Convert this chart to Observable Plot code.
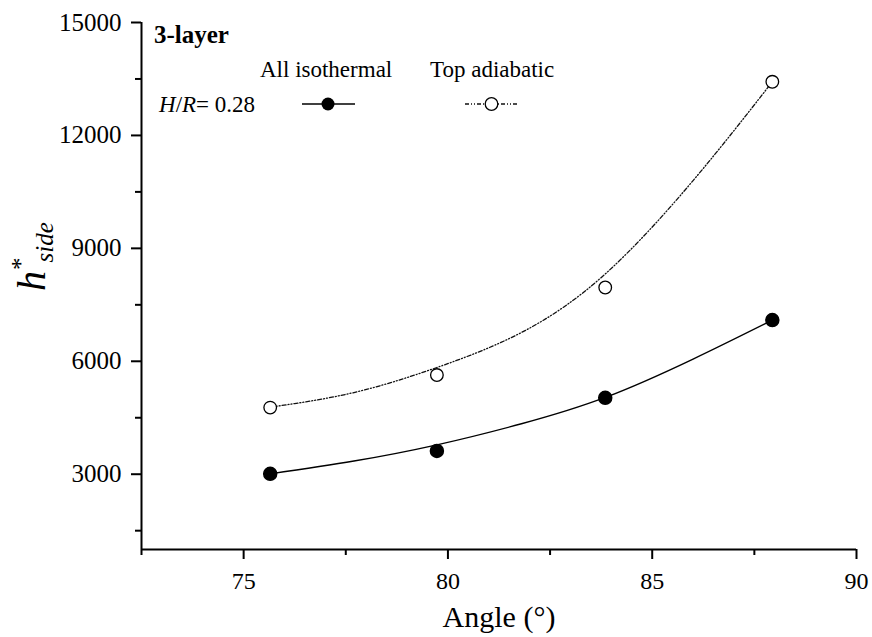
<!DOCTYPE html>
<html>
<head>
<meta charset="utf-8">
<script src="https://cdn.jsdelivr.net/npm/d3@7"></script>
<script src="https://cdn.jsdelivr.net/npm/@observablehq/plot@0.6"></script>
<style>
  html, body { margin: 0; padding: 0; background: #fff; }
  #chart { width: 872px; height: 637px; }
</style>
</head>
<body>
<div id="chart"></div>
<script>
// ---- data ----
const angles = [75.65, 79.73, 83.85, 87.94];
const isothermal = [3010, 3620, 5030, 7095];
const adiabatic = [4770, 5635, 7960, 13425];

// fitted curves
const fitAngles = [75.65, 77.7, 79.73, 81.8, 83.85, 86.0, 87.94];
const isothermalFit = [3010, 3350, 3780, 4340, 5040, 6060, 7095];
const adiabaticFit = [4780, 5170, 5835, 6765, 8320, 10800, 13425];

const xTicks = [75, 80, 85, 90];
const xMinor = [72.5, 77.5, 82.5, 87.5];
const yTicks = [3000, 6000, 9000, 12000, 15000];
const yMinor = [1500, 4500, 7500, 10500, 13500];

const iso = angles.map((a, i) => ({angle: a, h: isothermal[i]}));
const adi = angles.map((a, i) => ({angle: a, h: adiabatic[i]}));
const isoFit = fitAngles.map((a, i) => ({angle: a, h: isothermalFit[i]}));
const adiFit = fitAngles.map((a, i) => ({angle: a, h: adiabaticFit[i]}));

const serif = "'Liberation Serif', 'Times New Roman', serif";
const dashStyle = "4,2,1,2,1,2";

const chart = Plot.plot({
  width: 872,
  height: 637,
  marginLeft: 141,
  marginRight: 16,
  marginTop: 22,
  marginBottom: 88,
  style: {fontFamily: serif, color: "#000", background: "#fff"},
  x: {domain: [72.5, 90]},
  y: {domain: [1000, 15000]},
  marks: [
    Plot.axisX({ticks: xTicks, tickSize: 10, tickPadding: 12, fontSize: 24, strokeWidth: 2, label: null, tickFormat: d => String(d)}),
    Plot.axisX({ticks: xMinor, tickSize: 6, strokeWidth: 2, label: null, tickFormat: () => ""}),
    Plot.axisY({ticks: yTicks, tickSize: 10, tickPadding: 10, fontSize: 25, strokeWidth: 2, label: null, tickFormat: d => String(d)}),
    Plot.axisY({ticks: yMinor, tickSize: 6, strokeWidth: 2, label: null, tickFormat: () => ""}),
    Plot.ruleY([1000], {strokeWidth: 2}),
    Plot.ruleX([72.5], {strokeWidth: 2}),
    Plot.line(isoFit, {x: "angle", y: "h", curve: "natural", stroke: "#000", strokeWidth: 1.4}),
    Plot.line(adiFit, {x: "angle", y: "h", curve: "natural", stroke: "#111", strokeWidth: 1.3, strokeDasharray: dashStyle}),
    Plot.dot(iso, {x: "angle", y: "h", r: 6.5, fill: "#000", stroke: "#000"}),
    Plot.dot(adi, {x: "angle", y: "h", r: 6.3, fill: "#fff", stroke: "#000", strokeWidth: 1.3}),
    Plot.text(["Angle (°)"], {frameAnchor: "bottom", dy: 68, fontSize: 30, text: d => d, lineAnchor: "middle"})
  ]
});

document.getElementById("chart").appendChild(chart);

// ---- rich text: y label and legend ----
const svg = d3.select(chart);

// y label: h*_side
const yl = svg.append("text")
  .attr("transform", "translate(45,291) rotate(-90)")
  .attr("text-anchor", "start")
  .attr("font-family", serif)
  .attr("font-style", "italic")
  .attr("fill", "#000");
yl.append("tspan").attr("font-size", 40).text("h");
yl.append("tspan").attr("font-size", 25).attr("font-style", "normal").attr("dy", -16).attr("dx", 1).text("*");
yl.append("tspan").attr("font-size", 25).attr("dy", 24).attr("dx", -5).text("side");

// legend
const leg = svg.append("g").attr("font-family", serif).attr("fill", "#000").attr("text-anchor", "start");
leg.append("text").attr("x", 154).attr("y", 43).attr("font-size", 25).attr("font-weight", "bold").text("3-layer");
leg.append("text").attr("x", 260).attr("y", 77).attr("font-size", 23).text("All isothermal");
leg.append("text").attr("x", 430).attr("y", 77).attr("font-size", 23).text("Top adiabatic");
const hr = leg.append("text").attr("x", 159).attr("y", 112).attr("font-size", 23);
hr.append("tspan").attr("font-style", "italic").text("H");
hr.append("tspan").text("/");
hr.append("tspan").attr("font-style", "italic").text("R");
hr.append("tspan").text("= 0.28");

leg.append("line").attr("x1", 302).attr("x2", 355).attr("y1", 104).attr("y2", 104)
  .attr("stroke", "#000").attr("stroke-width", 1.4);
leg.append("circle").attr("cx", 328).attr("cy", 104).attr("r", 6.5).attr("fill", "#000");
leg.append("line").attr("x1", 465).attr("x2", 518).attr("y1", 104).attr("y2", 104)
  .attr("stroke", "#111").attr("stroke-width", 1.3).attr("stroke-dasharray", dashStyle);
leg.append("circle").attr("cx", 491.5).attr("cy", 104).attr("r", 6.3).attr("fill", "#fff")
  .attr("stroke", "#000").attr("stroke-width", 1.3);
</script>
</body>
</html>
